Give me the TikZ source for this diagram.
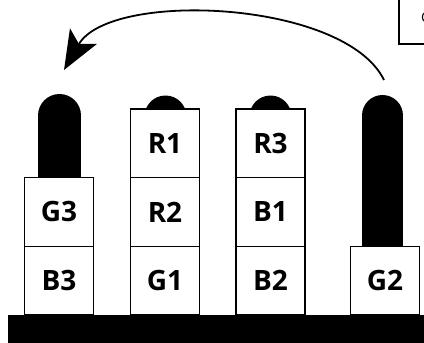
\documentclass[tikz,border=0pt]{standalone}
\usepackage{fontspec}
\setmainfont{Open Sans}
\usetikzlibrary{arrows.meta}
\begin{document}
\begin{tikzpicture}[x=1pt,y=-1pt,
  blockbox/.style={draw=black, line width=1.6pt, fill=white, minimum width=69pt,
    minimum height=68.7pt, inner sep=0pt, font=\bfseries\fontsize{28}{28}\selectfont},
  pegfill/.style={fill=black},
  movearrow/.style={line width=1.8pt, -{Stealth[length=39pt,width=31pt,inset=9pt]}}]
\clip (0,0) rectangle (424,343);
% pegs
\fill[pegfill] (59.5,115.5) circle (21.5pt);
\fill[pegfill] (38,115.5) rectangle (81,316);
\fill[pegfill] (165.5,116.5) circle (21pt);
\fill[pegfill] (144.5,116.5) rectangle (186.5,316);
\fill[pegfill] (270.5,116.5) circle (21pt);
\fill[pegfill] (249.5,116.5) rectangle (291.5,316);
\fill[pegfill] (382.5,115.5) circle (20.5pt);
\fill[pegfill] (362,115.5) rectangle (403,316);
% column 1
\node[blockbox] (B3) at (59,280.65) {B3};
\node[blockbox] (G3) at (59,211.95) {G3};
% column 2
\node[blockbox] (G1) at (165,280.65) {G1};
\node[blockbox] (R2) at (165,211.95) {R2};
\node[blockbox] (R1) at (165,143.25) {R1};
% column 3
\node[blockbox] (B2) at (270.5,280.65) {B2};
\node[blockbox] (B1) at (270.5,211.95) {B1};
\node[blockbox] (R3) at (270.5,143.25) {R3};
% column 4
\node[blockbox] (G2) at (385,280.65) {G2};
% base
\fill (8,315) rectangle (430,350);
% arrow
\coordinate (from) at (384,80);
\coordinate (to) at (64,70);
\draw[movearrow] (from) .. controls (345,0) and (110,-10) .. (to);
% partial box top right
\draw[line width=1.5pt] (399,-5) -- (399,44) -- (430,44);
\node[anchor=west, inner sep=0pt, font=\fontsize{14}{14}\selectfont] (cut) at (421,17) {C};
\end{tikzpicture}
\end{document}
